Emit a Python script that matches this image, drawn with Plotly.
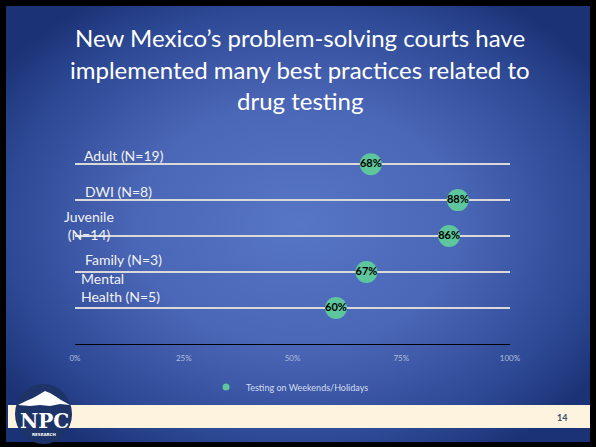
import base64
import plotly.graph_objects as go

# ---- data ----
categories = ["Adult (N=19)", "DWI (N=8)", "Juvenile<br>(N=14)", "Family (N=3)", "Mental<br>Health (N=5)"]
positions = [5, 4, 3, 2, 1]
values = [68, 88, 86, 67, 60]
series_name = "Testing on Weekends/Holidays"
tick_vals = [0, 25, 50, 75, 100]
tick_text = ["0%", "25%", "50%", "75%", "100%"]
title_lines = ["New Mexico’s problem-solving courts have",
               "implemented many best practices related to",
               "drug testing"]
page_number = "14"

W, H = 596, 447
L, R, T, B = 75, 510, 128, 344
PW, PH = R - L, B - T


def px(xp):
    return (xp - L) / PW


def py(yp):
    return (B - yp) / PH


FONT = "Lato"
GREEN = "#5EC69C"

svg = f'''<svg xmlns="http://www.w3.org/2000/svg" width="{W}" height="{H}" viewBox="0 0 {W} {H}">
<defs><radialGradient id="g" cx="0.5" cy="0.5" r="0.62">
<stop offset="0" stop-color="#5876C6"/>
<stop offset="0.45" stop-color="#4A66B6"/>
<stop offset="0.8" stop-color="#2E4A96"/>
<stop offset="1" stop-color="#1C3276"/>
</radialGradient></defs>
<rect x="0" y="0" width="{W}" height="{H}" fill="#000000"/>
<rect x="6" y="6" width="{W-12}" height="{H-11}" fill="url(#g)"/>
</svg>'''
bg_uri = "data:image/svg+xml;base64," + base64.b64encode(svg.encode()).decode()

fig = go.Figure()
fig.add_trace(go.Scatter(
    x=values, y=positions, mode="markers+text",
    marker=dict(size=22, color=GREEN, line=dict(width=0)),
    text=[f"{v}%" for v in values], textposition="middle center",
    textfont=dict(family=FONT, size=11, color="#000000", weight="bold"),
    name=series_name, showlegend=False, legendgroup="s", cliponaxis=False,
))
# legend entry (small dot, as in the reference legend)
fig.add_trace(go.Scatter(
    x=[None], y=[None], mode="markers", marker=dict(size=7, color=GREEN),
    name=series_name, showlegend=True, legendgroup="s",
))

annotations = []
for i, t in enumerate(title_lines):
    annotations.append(dict(text=t, xref="paper", yref="paper", x=px(300), y=py(38 + i * 31),
                            showarrow=False, xanchor="center", yanchor="middle",
                            font=dict(family=FONT, size=24, color="#FFFFFF")))

label_specs = [
    dict(x=82, y=155, align="left", xanchor="left"),
    dict(x=83, y=191, align="left", xanchor="left"),
    dict(x=89, y=225, align="center", xanchor="center"),
    dict(x=83, y=259, align="left", xanchor="left"),
    dict(x=79, y=287, align="left", xanchor="left"),
]
for cat, spec in zip(categories, label_specs):
    annotations.append(dict(text=cat, xref="paper", yref="paper", x=px(spec["x"]), y=py(spec["y"]),
                            showarrow=False, xanchor=spec["xanchor"], yanchor="middle", align=spec["align"],
                            font=dict(family=FONT, size=14, color="#F2F2F2")))

annotations.append(dict(text=page_number, xref="paper", yref="paper", x=px(562), y=py(417),
                        showarrow=False, xanchor="center", yanchor="middle",
                        font=dict(family=FONT, size=9, color="#3C4B6E", weight="bold")))
annotations.append(dict(text="NPC", xref="paper", yref="paper", x=px(44), y=py(421),
                        showarrow=False, xanchor="center", yanchor="middle",
                        font=dict(family="DejaVu Serif", size=20, color="#FFFFFF", weight="bold")))
annotations.append(dict(text="RESEARCH", xref="paper", yref="paper", x=px(44), y=py(434),
                        showarrow=False, xanchor="center", yanchor="middle",
                        font=dict(family="DejaVu Sans", size=4, color="#FFFFFF", weight="bold")))

shapes = [
    dict(type="rect", xref="paper", yref="paper", x0=px(8), x1=px(590), y0=py(405), y1=py(428),
         fillcolor="#FDF3DE", line=dict(width=0), layer="above"),
    dict(type="circle", xref="paper", yref="paper", x0=px(15), x1=px(72), y0=py(384), y1=py(444),
         fillcolor="#1E3468", line=dict(width=0), layer="above"),
]
mountain = [(18, 405), (26, 401), (33, 398), (40, 394), (45, 391), (50, 393), (55, 396),
            (61, 400), (70, 405), (60, 404), (50, 406), (40, 405), (30, 406)]
path = "M " + " L ".join(f"{px(a):.5f},{py(b):.5f}" for a, b in mountain) + " Z"
shapes.append(dict(type="path", xref="paper", yref="paper", path=path,
                   fillcolor="#FFFFFF", line=dict(width=0), layer="above"))

fig.update_layout(
    width=W, height=H,
    margin=dict(l=L, r=W - R, t=T, b=H - B, pad=0),
    paper_bgcolor="rgba(0,0,0,0)", plot_bgcolor="rgba(0,0,0,0)",
    images=[dict(source=bg_uri, xref="paper", yref="paper", x=px(0), y=py(0),
                 sizex=W / PW, sizey=H / PH, sizing="stretch", xanchor="left", yanchor="top",
                 layer="below")],
    xaxis=dict(range=[0, 100], tickvals=tick_vals, ticktext=tick_text, showgrid=False, zeroline=False,
               showline=True, linecolor="#000000", linewidth=1.2, ticks="", ticklabelstandoff=6,
               tickfont=dict(family=FONT, size=8, color="#B3BEDC"), fixedrange=True),
    yaxis=dict(range=[0, 6.005], dtick=1, showgrid=True, gridcolor="#D9D9D9", gridwidth=1.5,
               zeroline=False, showticklabels=False, showline=False, fixedrange=True),
    showlegend=True,
    legend=dict(orientation="h", xanchor="center", x=px(290), yanchor="middle", y=py(387),
                font=dict(family=FONT, size=9, color="#D5DCF0"), bgcolor="rgba(0,0,0,0)",
                itemwidth=30),
    annotations=annotations, shapes=shapes,
)
fig.write_html("out.html", config={"displayModeBar": False},
               post_script="document.body.style.margin='0';document.body.style.overflow='hidden';")
